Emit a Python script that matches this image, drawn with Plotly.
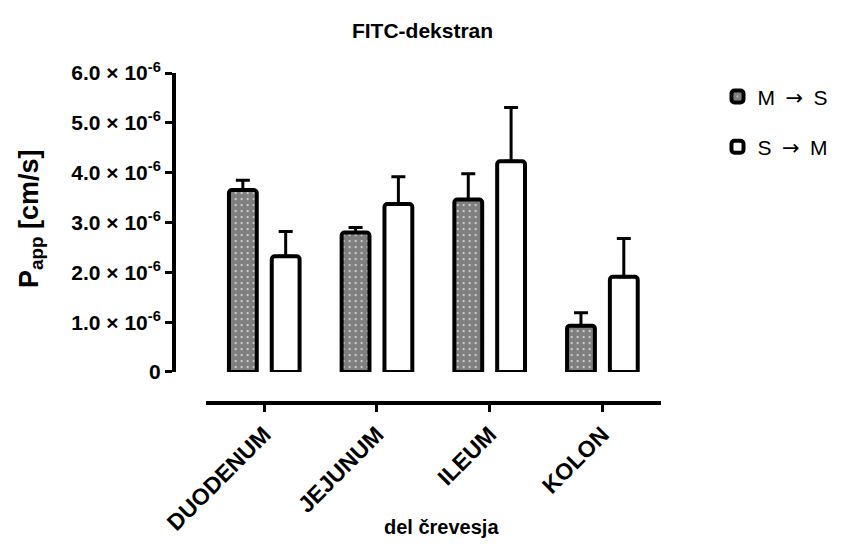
import plotly.graph_objects as go

categories = ["DUODENUM", "JEJUNUM", "ILEUM", "KOLON"]
ms_values = [3.65e-6, 2.80e-6, 3.46e-6, 0.93e-6]
ms_err = [0.20e-6, 0.10e-6, 0.52e-6, 0.26e-6]
sm_values = [2.32e-6, 3.37e-6, 4.23e-6, 1.91e-6]
sm_err = [0.50e-6, 0.55e-6, 1.08e-6, 0.77e-6]
tick_vals = [0, 1e-6, 2e-6, 3e-6, 4e-6, 5e-6, 6e-6]
tick_text = ["0", "1.0 × 10<sup>-6</sup>", "2.0 × 10<sup>-6</sup>", "3.0 × 10<sup>-6</sup>",
             "4.0 × 10<sup>-6</sup>", "5.0 × 10<sup>-6</sup>", "6.0 × 10<sup>-6</sup>"]

FONT = "Liberation Sans, Arial, sans-serif"
ARROW = '\u2002<span style="font-family:DejaVu Sans">→</span>\u2002'

fig = go.Figure()
fig.add_trace(go.Bar(
    x=categories, y=ms_values, name="M" + ARROW + "S", legendgroup="a",
    marker=dict(color="white", line=dict(color="black", width=4), cornerradius=3,
                pattern=dict(shape=".", fgcolor="black", bgcolor="white", size=6, solidity=0.85)),
    error_y=dict(type="data", array=ms_err, arrayminus=[0]*4, symmetric=False,
                 color="black", thickness=3, width=7),
))
fig.add_trace(go.Bar(
    x=categories, y=sm_values, name="S" + ARROW + "M", legendgroup="b",
    marker=dict(color="white", line=dict(color="black", width=4), cornerradius=3),
    error_y=dict(type="data", array=sm_err, arrayminus=[0]*4, symmetric=False,
                 color="black", thickness=3, width=7),
))

fig.update_layout(
    width=845, height=550,
    margin=dict(l=174, r=182, t=73, b=147),
    plot_bgcolor="white", paper_bgcolor="white",
    barmode="group", bargap=0.24, bargroupgap=0.35,
    font=dict(family=FONT, color="black"),
    title=dict(text="<b>FITC-dekstran</b>", x=0.5, xanchor="center", y=0.945, yanchor="middle",
               font=dict(size=21, family=FONT, color="black")),
    legend=dict(x=1.116, y=0.99, xanchor="left", yanchor="top", tracegroupgap=20,
                traceorder="grouped", font=dict(size=21, family=FONT, color="black"),
                bgcolor="rgba(0,0,0,0)"),
    xaxis=dict(domain=[0.065, 1], anchor="free", position=0, range=[-0.52, 3.52],
               showline=True, linecolor="black", linewidth=4,
               ticks="outside", ticklen=7, tickwidth=3, tickcolor="black",
               tickangle=-45, tickfont=dict(size=23, family=FONT, weight="bold", color="black"),
               showgrid=False, zeroline=False),
    yaxis=dict(domain=[0.094, 1], anchor="free", position=0, range=[0, 6e-6],
               showline=True, linecolor="black", linewidth=4,
               ticks="outside", ticklen=7, tickwidth=3, tickcolor="black",
               tickvals=tick_vals, ticktext=tick_text,
               tickfont=dict(size=21, family=FONT, weight="bold", color="black"),
               showgrid=False, zeroline=False),
    annotations=[
        dict(text="<b>del črevesja</b>", xref="paper", yref="paper", x=0.55, y=-0.376,
             xanchor="center", yanchor="middle", showarrow=False,
             font=dict(size=20, family=FONT, color="black")),
        dict(text="<b>P<sub>app</sub> [cm/s]</b>", xref="paper", yref="paper",
             x=-0.294, y=0.56, xanchor="center", yanchor="middle", textangle=-90, showarrow=False,
             font=dict(size=27, family=FONT, color="black")),
    ],
)

fig.write_html("out.html")
